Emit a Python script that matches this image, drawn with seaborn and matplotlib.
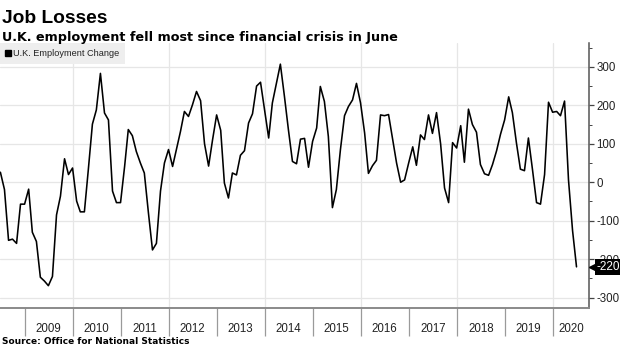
import numpy as np
import pandas as pd
import matplotlib
matplotlib.use("Agg")
import matplotlib.pyplot as plt
import matplotlib.dates as mdates
import matplotlib.transforms as mtransforms
from matplotlib.lines import Line2D
from matplotlib.ticker import FixedLocator, MultipleLocator, NullFormatter
import seaborn as sns

# ---------------- data ----------------
first_month_end = "2008-06-30"
employment_change = [
    26, -19, -151, -148, -159, -57, -57, -18, -130, -154,
    -247, -257, -269, -245, -85, -36, 61, 20, 37, -49,
    -77, -77, 33, 151, 188, 283, 180, 162, -23, -53,
    -53, 41, 137, 121, 80, 50, 24, -79, -176, -159,
    -23, 50, 85, 41, 85, 132, 184, 171, 201, 236,
    212, 100, 42, 110, 175, 135, -2, -41, 24, 19,
    70, 82, 154, 178, 250, 260, 188, 115, 206, 257,
    307, 223, 137, 54, 48, 112, 114, 39, 106, 141,
    249, 210, 119, -66, -19, 85, 173, 197, 214, 257,
    206, 128, 23, 43, 57, 175, 173, 176, 112, 50,
    0, 6, 50, 92, 44, 123, 111, 175, 127, 181,
    100, -15, -53, 103, 89, 147, 52, 190, 150, 130,
    46, 22, 18, 46, 82, 125, 162, 222, 181, 102,
    34, 30, 115, 33, -53, -57, 20, 208, 182, 184,
    173, 211, 6, -126, -220,
]
series_label = "U.K. Employment Change"
title_text = "Job Losses"
subtitle_text = "U.K. employment fell most since financial crisis in June"
source_text = "Source: Office for National Statistics"
y_ticks = [-300, -200, -100, 0, 100, 200, 300]
year_labels = list(range(2009, 2021))
grid_years = [2010, 2012, 2014, 2016, 2018, 2020]

dates = pd.date_range(first_month_end, periods=len(employment_change), freq="ME")
df = pd.DataFrame({"date": dates, "change": employment_change})

# ---------------- style ----------------
sns.set_theme(style="white")
plt.rcParams["font.family"] = ["Liberation Sans", "DejaVu Sans"]

W, H = 620, 348
fig = plt.figure(figsize=(W / 100, H / 100), dpi=100)
ax_left, ax_right, ax_top, ax_bottom = 0, 589, 43, 308
ax = fig.add_axes([ax_left / W, 1 - ax_bottom / H,
                   (ax_right - ax_left) / W, (ax_bottom - ax_top) / H])

sns.lineplot(data=df, x="date", y="change", color="black", linewidth=1.15,
             ax=ax, legend=False, zorder=5)

x0 = mdates.date2num(pd.Timestamp("2008-06-27"))
x1 = mdates.date2num(pd.Timestamp("2020-10-03"))
ax.set_xlim(x0, x1)
ax.set_ylim(-327, 362)
ax.set_xlabel("")
ax.set_ylabel("")

# y axis on the right
ax.yaxis.tick_right()
ax.set_yticks(y_ticks)
ax.set_yticklabels([str(v) for v in y_ticks])
ax.yaxis.set_minor_locator(MultipleLocator(50))
ax.tick_params(axis="y", which="major", direction="out", length=3.5, width=0.9,
               color="#444444", labelsize=8.3, labelcolor="#222222", pad=2,
               right=True, left=False)
ax.tick_params(axis="y", which="minor", direction="out", length=2, width=0.7,
               color="#444444", right=True, left=False)
ax.grid(axis="y", which="major", color="#e6e6e6", linewidth=0.9)
ax.set_axisbelow(True)

# x axis: long separators at year boundaries, labels centred between them
year_starts = [mdates.date2num(pd.Timestamp(f"{y}-01-01")) for y in year_labels]
ends = year_starts[1:] + [x1]
centres = [(a + min(b, x1)) / 2 for a, b in zip(year_starts, ends)]
ax.xaxis.set_major_locator(FixedLocator(year_starts))
ax.xaxis.set_major_formatter(NullFormatter())
ax.xaxis.set_minor_locator(FixedLocator(centres))
ax.set_xticklabels([str(y) for y in year_labels], minor=True)
ax.tick_params(axis="x", which="major", direction="out", length=20.5, width=0.9,
               color="#9a9a9a", bottom=True)
ax.tick_params(axis="x", which="minor", length=0, labelsize=8.3,
               labelcolor="#222222", pad=11, bottom=True)
for y in grid_years:
    ax.axvline(mdates.date2num(pd.Timestamp(f"{y}-01-01")), color="#e6e6e6",
               linewidth=0.9, zorder=0.5)

for side in ["left", "top"]:
    ax.spines[side].set_visible(False)
ax.spines["right"].set_color("#555555")
ax.spines["right"].set_linewidth(1.1)
ax.spines["bottom"].set_color("#8a8a8a")
ax.spines["bottom"].set_linewidth(1.4)

# legend
handle = Line2D([], [], marker="s", linestyle="none", color="black", markersize=4.2)
leg = ax.legend([handle], [series_label], loc="upper left", bbox_to_anchor=(0, 1),
                borderaxespad=0, frameon=True, fancybox=False, facecolor="#eeeeee",
                edgecolor="none", framealpha=1, fontsize=6.6, handlelength=0.5,
                handletextpad=0.3, borderpad=0.65, labelcolor="#222222")
leg.set_zorder(6)

# last value tag
last_val = df["change"].iloc[-1]
trans = mtransforms.blended_transform_factory(ax.transAxes, ax.transData)
shift = mtransforms.ScaledTranslation(4.5 / 72, 0, fig.dpi_scale_trans)
ax.plot([1], [last_val], marker="<", markersize=9, color="black",
        transform=trans + shift, clip_on=False, zorder=9)
ax.annotate(f"{last_val:.0f}", xy=(1, last_val), xycoords=trans, xytext=(5.5, 0),
            textcoords="offset points", ha="left", va="center", color="white",
            fontsize=8.5, annotation_clip=False, zorder=10,
            bbox=dict(boxstyle="square,pad=0.15", fc="black", ec="none"))

# titles and source
fig.text(2 / W, 1 - 23 / H, title_text, fontsize=13.8, fontweight="bold",
         va="baseline", ha="left", color="black")
fig.text(2 / W, 1 - 41 / H, subtitle_text, fontsize=9.2, fontweight="bold",
         va="baseline", ha="left", color="black", family=["DejaVu Sans"])
fig.text(2 / W, 1 - 344 / H, source_text, fontsize=6.5, fontweight="bold",
         va="baseline", ha="left", color="black", family=["DejaVu Sans"])

fig.savefig("out.png", dpi=100)
